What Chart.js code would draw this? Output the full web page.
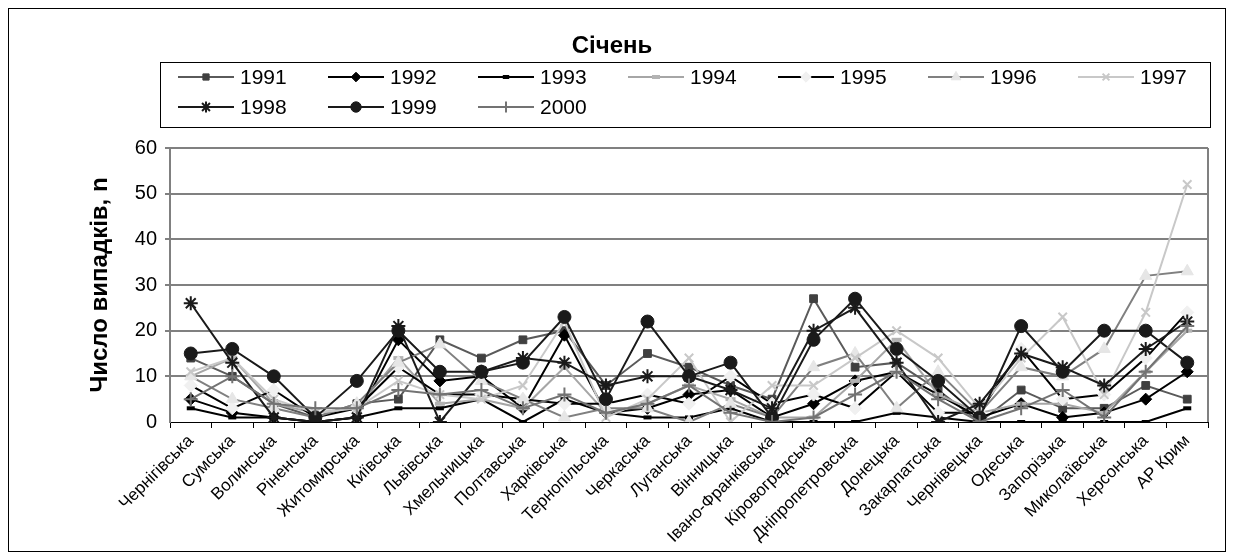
<!DOCTYPE html>
<html>
<head>
<meta charset="utf-8">
<script src="https://cdn.jsdelivr.net/npm/chart.js@4/dist/chart.umd.min.js"></script>
<style>
  html, body { margin: 0; padding: 0; background: #fff; }
  #c { display: block; }
</style>
</head>
<body>
<canvas id="c" width="1234" height="560"></canvas>
<script>
// Regions of Ukraine (x axis)
const regions = ['Чернігівська', 'Сумська', 'Волинська', 'Ріненська', 'Житомирська', 'Київська',
  'Львівська', 'Хмельницька', 'Полтавська', 'Харківська', 'Тернопільська', 'Черкаська', 'Луганська',
  'Вінницька', 'Івано-Франківська', 'Кіровоградська', 'Дніпропетровська', 'Донецька', 'Закарпатська',
  'Чернівецька', 'Одеська', 'Запорізька', 'Миколаївська', 'Херсонська', 'АР Крим'];

// Year labels
const years = ['1991', '1992', '1993', '1994', '1995', '1996', '1997', '1998', '1999', '2000'];

// Number of cases in January, by region
const y1991 = [14, 10, 4, 1, 4, 5, 18, 14, 18, 20, 8, 15, 12, 8, 5, 27, 12, 13, 7, 0, 7, 3, 3, 8, 5];
const y1992 = [5, 2, 1, 0, 1, 18, 9, 10, 3, 19, 2, 3, 6, 7, 1, 4, 9, 11, 6, 1, 4, 1, 2, 5, 11];
const y1993 = [3, 1, 1, 0, 1, 3, 3, 5, 0, 5, 2, 1, 1, 3, 0, 0, 0, 2, 1, 0, 0, 0, 0, 0, 3];
const y1994 = [10, 14, 4, 2, 3, 14, 4, 5, 3, 12, 2, 4, 8, 5, 1, 1, 9, 18, 6, 2, 4, 4, 2, 11, 20];
const y1995 = [8, 3, 7, 1, 3, 12, 6, 6, 5, 4, 4, 6, 4, 10, 4, 6, 3, 11, 2, 2, 16, 5, 6, 14, 24];
const y1996 = [10, 5, 3, 1, 4, 13, 17, 9, 5, 1, 3, 3, 0, 4, 1, 12, 15, 3, 11, 2, 12, 10, 16, 32, 33];
const y1997 = [11, 14, 5, 2, 3, 9, 6, 5, 8, 22, 1, 5, 14, 0, 8, 8, 14, 20, 14, 3, 14, 23, 6, 24, 52];
const y1998 = [26, 13, 1, 0, 1, 21, 0, 11, 14, 13, 8, 10, 10, 7, 3, 20, 25, 13, 0, 4, 15, 12, 8, 16, 22];
const y1999 = [15, 16, 10, 1, 9, 20, 11, 11, 13, 23, 5, 22, 10, 13, 1, 18, 27, 16, 9, 1, 21, 11, 20, 20, 13];
const y2000 = [5, 10, 4, 3, 3, 7, 6, 7, 3, 6, 2, 4, 8, 2, 0, 1, 6, 11, 5, 0, 3, 7, 1, 11, 21];

const seriesValues = [y1991, y1992, y1993, y1994, y1995, y1996, y1997, y1998, y1999, y2000];

// Line and marker look of each year
const looks = [
  { line: '#5a5a5a', fill: '#404040', edge: '#404040', shape: 'rect',     r: 5.5, bw: 1 },
  { line: '#000000', fill: '#000000', edge: '#000000', shape: 'rectRot',  r: 6, bw: 1 },
  { line: '#000000', fill: '#000000', edge: '#000000', shape: 'line',     r: 4, bw: 4 },
  { line: '#a6a6a6', fill: '#b3b3b3', edge: '#b3b3b3', shape: 'line',     r: 5, bw: 4 },
  { line: '#000000', fill: '#f0f0f0', edge: '#f0f0f0', shape: 'rectRot',  r: 6.5, bw: 1 },
  { line: '#808080', fill: '#e6e6e6', edge: '#e6e6e6', shape: 'triangle', r: 7, bw: 1 },
  { line: '#c8c8c8', fill: '#c8c8c8', edge: '#c8c8c8', shape: 'crossRot', r: 6, bw: 2 },
  { line: '#1a1a1a', fill: '#1a1a1a', edge: '#1a1a1a', shape: 'star',     r: 7, bw: 2 },
  { line: '#1a1a1a', fill: '#1a1a1a', edge: '#1a1a1a', shape: 'circle',   r: 6.5, bw: 1 },
  { line: '#737373', fill: '#737373', edge: '#737373', shape: 'cross',    r: 7, bw: 2 }
];

const FONT = "'Liberation Sans', Arial, sans-serif";

const datasets = years.map((yr, i) => ({
  label: yr,
  data: seriesValues[i],
  borderColor: looks[i].line,
  borderWidth: 2,
  backgroundColor: looks[i].fill,
  pointStyle: looks[i].shape,
  pointRadius: looks[i].r,
  pointHoverRadius: looks[i].r,
  pointBackgroundColor: looks[i].fill,
  pointBorderColor: looks[i].edge,
  pointBorderWidth: looks[i].bw,
  tension: 0,
  fill: false,
  order: years.length - i   // later years are painted over earlier ones
}));

// Outer frame, title, boxed legend and right edge of the plot area
const decorations = {
  id: 'decorations',
  beforeDraw(chart) {
    const ctx = chart.ctx;
    ctx.save();
    ctx.fillStyle = '#ffffff';
    ctx.fillRect(0, 0, chart.width, chart.height);
    ctx.restore();
  },
  beforeDatasetsDraw(chart) {
    const ctx = chart.ctx, a = chart.chartArea;
    ctx.save();
    ctx.strokeStyle = '#808080';
    ctx.lineWidth = 2;
    ctx.beginPath();
    ctx.moveTo(a.right, a.top);
    ctx.lineTo(a.right, a.bottom);
    ctx.stroke();
    ctx.restore();
  },
  afterDraw(chart) {
    const ctx = chart.ctx;
    ctx.save();
    // outer frame
    ctx.strokeStyle = '#000';
    ctx.lineWidth = 1;
    ctx.strokeRect(8.5, 8.5, 1217, 543);

    // title
    ctx.fillStyle = '#000';
    ctx.font = 'bold 24px ' + FONT;
    ctx.textAlign = 'center';
    ctx.textBaseline = 'middle';
    ctx.fillText('Січень', 612, 46);

    // legend box
    ctx.strokeStyle = '#000';
    ctx.lineWidth = 1;
    ctx.strokeRect(160.5, 62.5, 1050, 65);

    ctx.font = '21px ' + FONT;
    ctx.textAlign = 'left';
    chart.data.datasets.forEach((ds, i) => {
      const col = i % 7, row = Math.floor(i / 7);
      const x0 = 178 + col * 150;
      const y = 77 + row * 30;
      ctx.strokeStyle = ds.borderColor;
      ctx.lineWidth = 2;
      ctx.beginPath();
      ctx.moveTo(x0, y);
      ctx.lineTo(x0 + 56, y);
      ctx.stroke();
      ctx.fillStyle = ds.pointBackgroundColor;
      ctx.strokeStyle = ds.pointBorderColor;
      ctx.lineWidth = ds.pointBorderWidth;
      Chart.helpers.drawPoint(ctx, {
        pointStyle: ds.pointStyle,
        radius: ds.pointRadius * 0.8,
        rotation: 0,
        borderWidth: ds.pointBorderWidth
      }, x0 + 28, y);
      ctx.fillStyle = '#000';
      ctx.fillText(ds.label, x0 + 62, y + 1);
    });
    ctx.restore();
  }
};

new Chart(document.getElementById('c'), {
  type: 'line',
  data: { labels: regions, datasets: datasets },
  options: {
    responsive: false,
    animation: false,
    devicePixelRatio: 1,
    layout: { padding: { left: 10, right: 26, top: 148, bottom: 10 } },
    plugins: {
      legend: { display: false },
      title: { display: false },
      tooltip: { enabled: false }
    },
    scales: {
      x: {
        type: 'category',
        offset: true,
        grid: {
          offset: true,
          drawOnChartArea: false,
          drawTicks: true,
          tickLength: 6,
          color: '#000',
          lineWidth: 1
        },
        border: { display: true, color: '#000', width: 1 },
        ticks: {
          autoSkip: false,
          minRotation: 45,
          maxRotation: 45,
          padding: 3,
          color: '#000',
          font: { family: FONT, size: 17 }
        },
        afterFit(scale) { scale.height = 128; }
      },
      y: {
        min: 0,
        max: 60,
        ticks: {
          stepSize: 10,
          color: '#000',
          padding: 8,
          font: { family: FONT, size: 20 }
        },
        grid: {
          color: (c) => c.tick && c.tick.value === 0 ? 'rgba(0,0,0,0)' : '#808080',
          lineWidth: 2,
          drawTicks: true,
          tickLength: 5
        },
        border: { display: true, color: '#808080', width: 2 },
        title: {
          display: true,
          text: 'Число випадків, n',
          color: '#000',
          font: { family: FONT, size: 24, weight: 'bold' },
          padding: { top: 76, bottom: 0 }
        },
        afterFit(scale) { scale.width = 160; }
      }
    }
  },
  plugins: [decorations]
});
</script>
</body>
</html>
